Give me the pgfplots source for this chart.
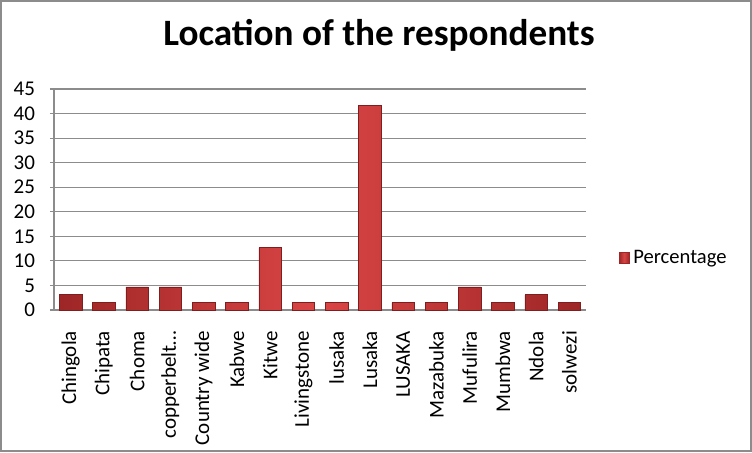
\documentclass[border=0pt]{standalone}
\usepackage{fontspec}
\setmainfont{Carlito}
\usepackage{pgfplots}
\pgfplotsset{compat=1.18}

\definecolor{gridgray}{HTML}{8C8C8C}
\definecolor{barmid}{HTML}{DA4545}
\definecolor{baredge}{HTML}{9E2626}

\begin{document}
\begin{tikzpicture}
\begin{axis}[
    name=ax,
    scale only axis,
    width=266pt, height=110.5pt,
    xmin=-0.5, xmax=15.5,
    ymin=0, ymax=45,
    ytick={0,5,...,45},
    xtick={0,...,15},
    xticklabels={Chingola,Chipata,Choma,copperbelt…,Country wide,Kabwe,Kitwe,Livingstone,lusaka,Lusaka,LUSAKA,Mazabuka,Mufulira,Mumbwa,Ndola,solwezi},
    x tick label style={rotate=90, anchor=east, xshift=-5pt,
        font=\fontsize{10.5}{13}\selectfont},
    yticklabel style={xshift=-4pt, font=\fontsize{10.5}{13}\selectfont},
    /pgf/number format/assume math mode=true,
    xtick style={draw=none},
    ytick style={gridgray, line width=0.6pt},
    tick align=outside,
    major tick length=2pt,
    ymajorgrids=true,
    grid style={gridgray, line width=0.6pt},
    axis x line*=bottom,
    axis y line*=left,
    axis line style={gridgray, line width=0.6pt, -},
    separate axis lines,
    ybar,
    bar width=11.3pt,
    legend style={at={(1.05,0.235)}, anchor=west, draw=none, fill=none,
        font=\fontsize{10.3}{13}\selectfont},
    legend image code/.code={\fill[barmid, draw=baredge] (0cm,-0.1cm) rectangle (0.17cm,0.1cm);},
]
\addplot[left color=baredge, right color=baredge, middle color=barmid, draw=baredge!80!black, line width=0.3pt]
    coordinates {(0,3.1)(1,1.5)(2,4.7)(3,4.7)(4,1.5)(5,1.5)(6,12.7)(7,1.5)
                 (8,1.5)(9,41.7)(10,1.5)(11,1.5)(12,4.7)(13,1.5)(14,3.1)(15,1.5)};
\addlegendentry{Percentage}
\end{axis}
\draw[gridgray, line width=0.8pt] ([shift={(-26.6pt,-70.6pt)}]ax.south west) rectangle ++(375.2pt,225.2pt);
\node[anchor=base, font=\fontsize{18.6}{22}\selectfont\bfseries] at ([shift={(162.5pt,132.5pt)}]ax.south west) {Location of the respondents};
\end{tikzpicture}
\end{document}
